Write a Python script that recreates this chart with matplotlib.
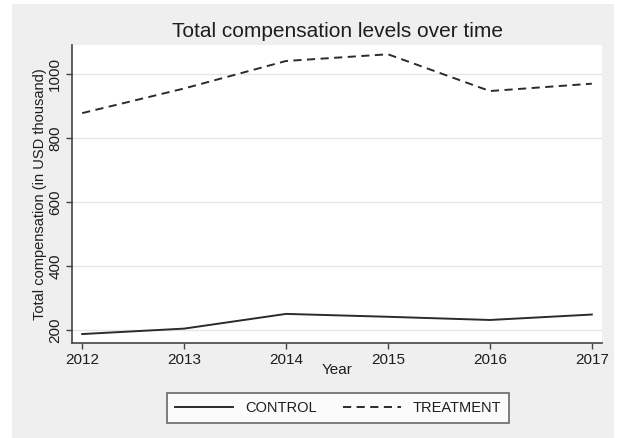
import matplotlib
matplotlib.use("Agg")
import matplotlib.pyplot as plt
from matplotlib.patches import Rectangle

years = [2012, 2013, 2014, 2015, 2016, 2017]
control = [187, 204, 250, 241, 231, 248]
treatment = [878, 955, 1041, 1062, 947, 970]
yticks = [200, 400, 600, 800, 1000]

plt.rcParams['font.family'] = ['Liberation Sans', 'DejaVu Sans']

W, H = 618, 438
fig = plt.figure(figsize=(W / 100, H / 100), dpi=100, facecolor='white')
fig.patches.append(Rectangle((12 / W, 0), (614 - 12) / W, (438 - 4) / H,
                             transform=fig.transFigure, facecolor='#efefef',
                             edgecolor='none', zorder=-10))

ax = fig.add_axes([72 / W, (H - 343) / H, (602 - 72) / W, (343 - 45) / H])
ax.set_facecolor('white')

lc = '#2b2b2b'
ax.plot(years, control, color=lc, lw=1.4, label='CONTROL')
ax.plot(years, treatment, color=lc, lw=1.4, dashes=(4.2, 2.8), label='TREATMENT')

ax.set_xlim(2011.9, 2017.1)
ax.set_ylim(159, 1091)
ax.set_yticks(yticks)
ax.set_xticks(years)
ax.set_yticklabels([str(v) for v in yticks], rotation=90, va='center', fontsize=11, color='#1e1e1e')
ax.set_xticklabels([str(v) for v in years], fontsize=11, color='#1e1e1e')
ax.grid(axis='y', color='#e6e6e6', lw=1)
ax.set_axisbelow(True)
for s in ['top', 'right']:
    ax.spines[s].set_visible(False)
for s in ['left', 'bottom']:
    ax.spines[s].set_color('#444444')
    ax.spines[s].set_linewidth(1.2)
ax.tick_params(direction='out', length=4, width=1, color='#444444', pad=3)

ax.set_title('Total compensation levels over time', fontsize=15, color='#1e1e1e', pad=6)
ax.set_ylabel('Total compensation (in USD thousand)', fontsize=10.5, color='#1e1e1e', labelpad=1)
ax.set_xlabel('Year', fontsize=11, color='#1e1e1e', labelpad=-3)

leg = fig.legend(loc='center', bbox_to_anchor=(338 / W, 1 - 408 / H), ncol=2,
                 fontsize=10.5, frameon=True, fancybox=False, handlelength=4.0,
                 columnspacing=1.8, handletextpad=0.8, borderpad=0.55)
leg.get_frame().set_edgecolor('#444444')
leg.get_frame().set_linewidth(1.2)
leg.get_frame().set_facecolor('white')
for t in leg.get_texts():
    t.set_color('#1e1e1e')

fig.savefig('out.png', dpi=100, facecolor=fig.get_facecolor())
